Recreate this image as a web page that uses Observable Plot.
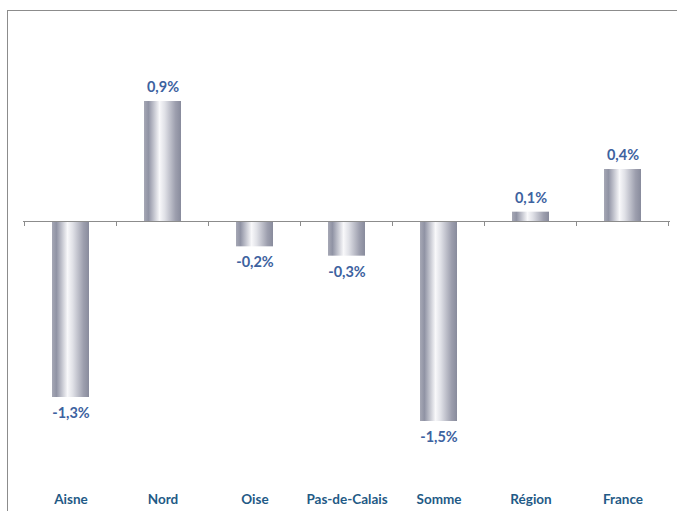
<!DOCTYPE html>
<html>
<head>
<meta charset="utf-8">
<script src="https://cdn.jsdelivr.net/npm/d3@7"></script>
<script src="https://cdn.jsdelivr.net/npm/@observablehq/plot@0.6"></script>
<style>
  html, body { margin: 0; padding: 0; background: #fff; }
  #wrap { position: relative; width: 677px; height: 511px; overflow: hidden; }
  #frame { position: absolute; left: 7px; top: 10px; width: 700px; height: 520px;
           border-left: 1.5px solid #8c8c8c; border-top: 1.5px solid #8c8c8c; box-sizing: border-box; }
  #chart { position: absolute; left: 0; top: 0; }
</style>
</head>
<body>
<div id="wrap"><div id="frame"></div><div id="chart"></div></div>
<script>
const categories = ["Aisne", "Nord", "Oise", "Pas-de-Calais", "Somme", "Région", "France"];
// values (labels show them rounded to one decimal)
const values = [-1.32, 0.9, -0.19, -0.26, -1.5, 0.07, 0.39];
const data = categories.map((c, i) => ({cat: c, v: values[i]}));
const fmt = v => v.toFixed(1).replace(".", ",") + "%";

const tickMarks = (index, scales, vals, dims) => {
  const x = scales.x;
  const bw = typeof x.bandwidth === "function" ? x.bandwidth() : x.bandwidth;
  const step = x(categories[1]) - x(categories[0]);
  const y0 = scales.y(0);
  const g = d3.create("svg:g");
  const xs = categories.map(c => x(c) + bw / 2 - step / 2);
  xs.push(x(categories[categories.length - 1]) + bw / 2 + step / 2);
  g.selectAll("line").data(xs).join("line")
    .attr("x1", d => d).attr("x2", d => d)
    .attr("y1", y0).attr("y2", y0 + 5)
    .attr("stroke", "#8c8c8c").attr("stroke-width", 1);
  return g.node();
};

const plot = Plot.plot({
  width: 677,
  height: 511,
  marginLeft: 23,
  marginRight: 7,
  marginTop: 61,
  marginBottom: 50,
  style: {background: "transparent", fontFamily: "Lato, 'Open Sans', sans-serif"},
  x: {domain: categories, paddingInner: 0.6, paddingOuter: 0.3, label: null},
  y: {domain: [-1.8, 1.2], axis: null},
  marks: [
    Plot.barY(data, {x: "cat", y: "v", fill: "url(#metal)"}),
    Plot.ruleY([0], {stroke: "#8c8c8c", strokeWidth: 1}),
    tickMarks,
    Plot.text(data.filter(d => d.v >= 0), {x: "cat", y: "v", text: d => fmt(d.v), dy: -14,
      fill: "#3d62a0", fontWeight: "bold", fontSize: 14.5}),
    Plot.text(data.filter(d => d.v < 0), {x: "cat", y: "v", text: d => fmt(d.v), dy: 16,
      fill: "#3d62a0", fontWeight: "bold", fontSize: 14.5}),
    Plot.axisX({anchor: "bottom", tickSize: 0, tickPadding: 33, fontSize: 13.5, fontWeight: "bold",
      fill: "#1f5a86", label: null})
  ]
});

const defs = d3.select(plot).insert("defs", ":first-child");
const grad = defs.append("linearGradient").attr("id", "metal").attr("x1", "0").attr("x2", "1").attr("y1", "0").attr("y2", "0");
[[0, "#a6a8b5"], [0.12, "#9093a4"], [0.42, "#f8f8fa"], [0.56, "#e0e1e7"], [0.85, "#9d9fae"], [1, "#888b9c"]]
  .forEach(([o, c]) => grad.append("stop").attr("offset", o).attr("stop-color", c));

document.getElementById("chart").appendChild(plot);
</script>
</body>
</html>
